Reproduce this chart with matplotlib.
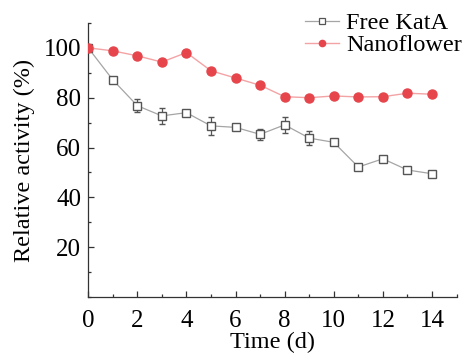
import matplotlib
matplotlib.use('Agg')
import matplotlib.pyplot as plt
from matplotlib.lines import Line2D
from matplotlib.ticker import MultipleLocator

plt.rcParams['font.family'] = ['Liberation Serif', 'DejaVu Serif']

# data
days = [0, 1, 2, 3, 4, 5, 6, 7, 8, 9, 10, 11, 12, 13, 14]
free_kata = [100, 87.2, 76.8, 72.7, 74.0, 68.7, 68.1, 65.3, 69.1, 63.8, 62.1, 52.2, 55.5, 51.0, 49.5]
free_kata_err = [0, 0, 2.5, 3.1, 0.8, 3.7, 0.8, 2.1, 3.3, 2.7, 0.8, 0.6, 0.8, 0.8, 0.6]
nanoflower = [100, 98.8, 96.8, 94.3, 98.1, 90.8, 87.9, 85.0, 80.4, 80.0, 80.7, 80.3, 80.4, 81.8, 81.4]

grey_line = '#a5a5a5'
grey_edge = '#555555'
red_line = '#f4a3a5'
red_dot = '#e5454b'

fig = plt.figure(figsize=(4.64, 3.58), dpi=100)
ax = fig.add_axes([0.19, 0.17, 0.794, 0.766])

ax.errorbar(days, free_kata, yerr=free_kata_err, color=grey_line, lw=0.9,
            marker='s', ms=5.5, mfc='white', mec=grey_edge, mew=1.0,
            ecolor=grey_edge, elinewidth=0.9, capsize=2.5, capthick=0.9,
            zorder=2)
ax.plot(days, nanoflower, color=red_line, lw=1.0, marker='o', ms=6.5,
        mfc=red_dot, mec=red_dot, zorder=3)

ax.set_xlim(0, 15)
ax.set_ylim(0, 110)
ax.set_xticks(range(0, 15, 2))
ax.xaxis.set_minor_locator(MultipleLocator(1))
ax.set_yticks([20, 40, 60, 80, 100])
ax.yaxis.set_minor_locator(MultipleLocator(10))

for s in ['top', 'right']:
    ax.spines[s].set_visible(False)
for s in ['left', 'bottom']:
    ax.spines[s].set_linewidth(0.9)
    ax.spines[s].set_color('#333333')

ax.tick_params(which='both', direction='in', labelsize=18, width=0.9, color='#333333')
ax.tick_params(which='major', length=4)
ax.tick_params(which='minor', length=2.5)
ax.tick_params(axis='x', pad=9)
ax.tick_params(axis='y', pad=5)

ax.set_xlabel('Time (d)', fontsize=17.5, labelpad=0)
ax.set_ylabel('Relative activity (%)', fontsize=17.5, labelpad=6)

handles = [
    Line2D([], [], color=grey_line, lw=0.9, marker='s', ms=4, mfc='white', mec=grey_edge, mew=0.9),
    Line2D([], [], color=red_line, lw=1.0, marker='o', ms=4.5, mfc=red_dot, mec=red_dot),
]
ax.legend(handles, ['Free KatA', 'Nanoflower'], loc='upper right',
          bbox_to_anchor=(1.04, 1.075), frameon=False, fontsize=17.5,
          handlelength=1.4, handletextpad=0.3, labelspacing=0.0,
          borderaxespad=0.0)

fig.savefig('out.png', dpi=100)
